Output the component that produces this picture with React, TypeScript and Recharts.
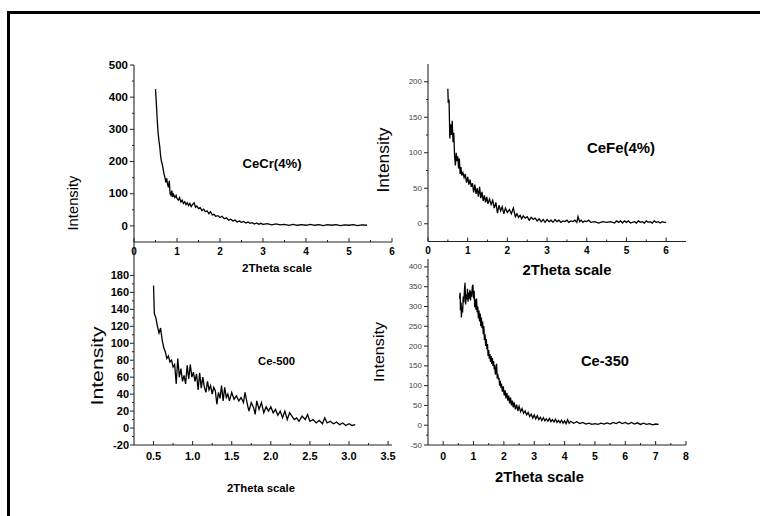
import { LineChart, Line, XAxis, YAxis } from "recharts";

const FONT = '"Liberation Sans", Arial, Helvetica, sans-serif';

// CeCr(4%)
const cecrX = [
  0.5, 0.52, 0.54, 0.56, 0.58, 0.6, 0.62, 0.64, 0.66, 0.68, 0.7, 0.72, 0.74, 0.76, 0.78, 0.8, 0.82, 0.84, 0.86, 0.88,
  0.9, 0.92, 0.95, 0.98, 1.0, 1.03, 1.06, 1.09, 1.12, 1.15, 1.18, 1.21, 1.24, 1.27, 1.3, 1.33, 1.36, 1.4, 1.43, 1.46,
  1.5, 1.54, 1.58, 1.62, 1.66, 1.7, 1.74, 1.78, 1.82, 1.86, 1.9, 1.95, 2.0, 2.05, 2.1, 2.15, 2.2, 2.25, 2.3, 2.35,
  2.4, 2.45, 2.5, 2.55, 2.6, 2.65, 2.7, 2.75, 2.8, 2.85, 2.9, 2.95, 3.0, 3.1, 3.2, 3.3, 3.4, 3.5, 3.6, 3.7,
  3.8, 3.9, 4.0, 4.1, 4.2, 4.3, 4.4, 4.5, 4.6, 4.7, 4.8, 4.9, 5.0, 5.1, 5.2, 5.3, 5.42,
];
const cecrY = [
  425, 380, 330, 290, 265, 245, 215, 200, 190, 175, 160, 150, 135, 148, 130, 120, 140, 100, 95, 110,
  90, 98, 88, 95, 85, 80, 88, 74, 80, 70, 75, 66, 72, 63, 70, 60, 66, 72, 58, 62,
  54, 57, 48, 52, 44, 47, 38, 44, 34, 36, 30, 32, 26, 30, 22, 25, 18, 21, 15, 18,
  12, 15, 11, 14, 9, 12, 8, 10, 6, 9, 5, 8, 5, 7, 3, 6, 3, 5, 2, 5,
  2, 4, 2, 5, 2, 4, 1, 4, 2, 4, 1, 3, 2, 4, 1, 3, 2,
];

// CeFe(4%)
const cefeX = [
  0.5, 0.51, 0.53, 0.55, 0.57, 0.59, 0.61, 0.63, 0.65, 0.67, 0.69, 0.71, 0.73, 0.75, 0.77, 0.79, 0.81, 0.83, 0.85, 0.88,
  0.91, 0.94, 0.97, 1.0, 1.03, 1.06, 1.09, 1.12, 1.15, 1.18, 1.21, 1.24, 1.27, 1.3, 1.33, 1.36, 1.39, 1.42, 1.45, 1.48,
  1.51, 1.55, 1.59, 1.63, 1.67, 1.71, 1.75, 1.79, 1.83, 1.87, 1.91, 1.95, 2.0, 2.05, 2.1, 2.15, 2.2, 2.24, 2.28, 2.32,
  2.36, 2.4, 2.45, 2.5, 2.55, 2.6, 2.65, 2.7, 2.75, 2.8, 2.85, 2.9, 2.95, 3.0, 3.05, 3.1, 3.15, 3.2, 3.25, 3.3,
  3.35, 3.4, 3.45, 3.5, 3.55, 3.6, 3.65, 3.7, 3.75, 3.78, 3.82, 3.86, 3.9, 3.95, 4.0, 4.05, 4.1, 4.2, 4.3, 4.4,
  4.5, 4.6, 4.7, 4.75, 4.8, 4.85, 4.9, 4.95, 5.0, 5.05, 5.1, 5.2, 5.25, 5.3, 5.35, 5.4, 5.45, 5.5, 5.55, 5.6,
  5.65, 5.7, 5.75, 5.8, 5.85, 5.9, 5.95, 6.0,
];
const cefeY = [
  190, 170, 175, 120, 140, 125, 145, 115, 128, 95, 82, 100, 88, 95, 78, 92, 70, 80, 68, 72,
  65, 70, 58, 66, 55, 62, 52, 57, 44, 55, 42, 50, 38, 52, 36, 45, 32, 40, 30, 38,
  28, 35, 27, 33, 22, 30, 15, 26, 18, 24, 14, 22, 16, 20, 14, 22, 10, 14, 9, 12,
  7, 11, 8, 10, 5, 9, 6, 8, 4, 7, 3, 6, 2, 6, 3, 5, 2, 6, 3, 5,
  2, 4, 3, 5, 2, 4, 3, 5, 2, 10, 3, 5, 2, 4, 3, 5, 2, 3, 1, 3,
  2, 3, 1, 4, 2, 4, 1, 4, 2, 4, 1, 3, 1, 4, 2, 3, 1, 4, 2, 3,
  1, 4, 2, 3, 1, 3, 2, 2,
];

// Ce-500
const ce500X = [
  0.5, 0.51, 0.53, 0.55, 0.57, 0.59, 0.61, 0.63, 0.65, 0.67, 0.69, 0.71, 0.73, 0.75, 0.77, 0.79, 0.81, 0.83, 0.85, 0.87,
  0.89, 0.91, 0.93, 0.95, 0.97, 0.99, 1.01, 1.03, 1.05, 1.07, 1.09, 1.11, 1.13, 1.15, 1.17, 1.19, 1.21, 1.23, 1.25, 1.27,
  1.29, 1.31, 1.33, 1.35, 1.37, 1.39, 1.41, 1.43, 1.45, 1.47, 1.5, 1.53, 1.56, 1.59, 1.62, 1.65, 1.67, 1.7, 1.72, 1.75,
  1.78, 1.8, 1.82, 1.85, 1.88, 1.91, 1.94, 1.97, 2.0, 2.03, 2.06, 2.09, 2.12, 2.15, 2.18, 2.21, 2.24, 2.27, 2.3, 2.33,
  2.36, 2.4, 2.44, 2.47, 2.5, 2.54, 2.58, 2.62, 2.66, 2.69, 2.72, 2.76, 2.8, 2.84, 2.88, 2.92, 2.96, 3.0, 3.04, 3.08,
];
const ce500Y = [
  168, 135, 130, 120, 112, 118, 104, 95, 90, 82, 85, 78, 80, 72, 75, 52, 82, 60, 70, 55,
  62, 52, 74, 58, 75, 60, 66, 55, 64, 45, 65, 47, 60, 48, 42, 55, 45, 50, 40, 48,
  44, 28, 42, 35, 50, 32, 48, 36, 40, 32, 42, 34, 38, 32, 36, 30, 42, 28, 20, 30,
  24, 16, 32, 22, 30, 18, 25, 20, 25, 18, 22, 15, 20, 12, 20, 10, 18, 14, 10, 12,
  8, 14, 10, 16, 8, 10, 6, 9, 5, 12, 6, 8, 5, 7, 4, 6, 3, 5, 3, 4,
];

// Ce-350
const ce350X = [
  0.54, 0.56, 0.57, 0.59, 0.6, 0.62, 0.64, 0.66, 0.68, 0.7, 0.72, 0.74, 0.76, 0.78, 0.8, 0.82, 0.84, 0.86, 0.88, 0.9,
  0.92, 0.94, 0.96, 0.98, 1.0, 1.02, 1.04, 1.06, 1.08, 1.1, 1.12, 1.14, 1.16, 1.18, 1.2, 1.22, 1.24, 1.26, 1.28, 1.3,
  1.32, 1.34, 1.36, 1.38, 1.4, 1.42, 1.44, 1.46, 1.48, 1.5, 1.52, 1.54, 1.56, 1.58, 1.6, 1.62, 1.64, 1.66, 1.68, 1.7,
  1.72, 1.74, 1.76, 1.78, 1.8, 1.82, 1.84, 1.86, 1.88, 1.9, 1.92, 1.95, 1.98, 2.01, 2.04, 2.07, 2.1, 2.13, 2.16, 2.19,
  2.22, 2.25, 2.28, 2.31, 2.34, 2.38, 2.42, 2.46, 2.5, 2.55, 2.6, 2.65, 2.7, 2.75, 2.8, 2.85, 2.9, 2.95, 3.0, 3.05,
  3.1, 3.15, 3.2, 3.25, 3.3, 3.35, 3.4, 3.45, 3.5, 3.55, 3.6, 3.65, 3.7, 3.75, 3.8, 3.85, 3.9, 3.95, 4.0, 4.05,
  4.1, 4.15, 4.2, 4.3, 4.4, 4.5, 4.6, 4.7, 4.8, 4.9, 5.0, 5.1, 5.2, 5.3, 5.4, 5.5, 5.6, 5.7, 5.8, 5.9,
  6.0, 6.1, 6.2, 6.3, 6.4, 6.5, 6.6, 6.7, 6.8, 6.9, 7.0, 7.1,
];
const ce350Y = [
  320, 335, 290, 310, 272, 300, 285, 325, 310, 340, 360, 305, 330, 318, 345, 312, 335, 320, 342, 315,
  338, 325, 350, 355, 320, 340, 298, 318, 292, 320, 285, 300, 270, 290, 262, 282, 250, 272, 245, 262,
  230, 250, 215, 230, 200, 218, 192, 205, 175, 190, 168, 180, 160, 175, 155, 170, 150, 162, 145, 148,
  128, 140, 155, 118, 130, 115, 120, 100, 112, 95, 105, 85, 98, 75, 88, 68, 82, 62, 75, 55,
  70, 50, 62, 45, 58, 40, 52, 36, 48, 34, 42, 30, 36, 26, 32, 22, 28, 18, 26, 16,
  24, 14, 20, 12, 19, 11, 16, 10, 17, 9, 14, 8, 15, 7, 12, 6, 13, 5, 11, 4,
  14, 5, 10, 5, 9, 4, 7, 3, 5, 2, 4, 2, 5, 3, 6, 3, 7, 4, 8, 4,
  7, 3, 7, 3, 6, 2, 5, 2, 4, 1, 3, 2,
];

// axis ticks
const cecrXTicks = [0, 0.5, 1, 1.5, 2, 2.5, 3, 3.5, 4, 4.5, 5, 5.5, 6];
const cecrXLabels = [0, 1, 2, 3, 4, 5, 6];
const cecrYTicks = [0, 50, 100, 150, 200, 250, 300, 350, 400, 450, 500];
const cecrYLabels = [0, 100, 200, 300, 400, 500];

const cefeXTicks = [0, 0.5, 1, 1.5, 2, 2.5, 3, 3.5, 4, 4.5, 5, 5.5, 6];
const cefeXLabels = [0, 1, 2, 3, 4, 5, 6];
const cefeYTicks = [0, 25, 50, 75, 100, 125, 150, 175, 200];
const cefeYLabels = [0, 50, 100, 150, 200];

const ce500XTicks = [0.5, 0.75, 1, 1.25, 1.5, 1.75, 2, 2.25, 2.5, 2.75, 3, 3.25, 3.5];
const ce500XLabels = [0.5, 1, 1.5, 2, 2.5, 3, 3.5];
const ce500YTicks = [-20, -10, 0, 10, 20, 30, 40, 50, 60, 70, 80, 90, 100, 110, 120, 130, 140, 150, 160, 170, 180];
const ce500YLabels = [-20, 0, 20, 40, 60, 80, 100, 120, 140, 160, 180];

const ce350XTicks = [0, 0.5, 1, 1.5, 2, 2.5, 3, 3.5, 4, 4.5, 5, 5.5, 6, 6.5, 7, 7.5, 8];
const ce350XLabels = [0, 1, 2, 3, 4, 5, 6, 7, 8];
const ce350YTicks = [-50, -25, 0, 25, 50, 75, 100, 125, 150, 175, 200, 225, 250, 275, 300, 325, 350, 375, 400];
const ce350YLabels = [-50, 0, 50, 100, 150, 200, 250, 300, 350, 400];

type TickStyle = { size: number; bold: boolean; fill: string; sx: number; off: number; fmt?: (v: number) => string };

const isIn = (list: number[], v: number) => list.some((m) => Math.abs(m - v) < 1e-6);

function xTick(labels: number[], st: TickStyle) {
  return (props: any) => {
    const { x, y, payload } = props;
    const v = payload.value as number;
    const major = isIn(labels, v);
    return (
      <g>
        <line x1={x} x2={x} y1={y} y2={y - (major ? 4 : 2)} stroke="#222" />
        {major && (
          <text
            transform={`translate(${x},${y + st.off}) scale(${st.sx},1)`}
            textAnchor="middle"
            dominantBaseline="central"
            fontSize={st.size}
            fontWeight={st.bold ? 700 : 400}
            fill={st.fill}
            fontFamily={FONT}
          >
            {st.fmt ? st.fmt(v) : String(v)}
          </text>
        )}
      </g>
    );
  };
}

function yTick(labels: number[], st: TickStyle) {
  return (props: any) => {
    const { x, y, payload } = props;
    const v = payload.value as number;
    const major = isIn(labels, v);
    return (
      <g>
        <line x1={x} x2={x - (major ? 4 : 2)} y1={y} y2={y} stroke="#222" />
        {major && (
          <text
            transform={`translate(${x - st.off},${y}) scale(${st.sx},1)`}
            textAnchor="end"
            dominantBaseline="central"
            fontSize={st.size}
            fontWeight={st.bold ? 700 : 400}
            fill={st.fill}
            fontFamily={FONT}
          >
            {String(v)}
          </text>
        )}
      </g>
    );
  };
}

interface PanelProps {
  xs: number[];
  ys: number[];
  box: { left: number; right: number; top: number; bottom: number };
  xDomain: [number, number];
  yDomain: [number, number];
  xTicks: number[];
  xLabels: number[];
  yTicks: number[];
  yLabels: number[];
  xStyle: TickStyle;
  yStyle: TickStyle;
}

function Panel(props: PanelProps) {
  const { xs, ys, box, xDomain, yDomain, xTicks, xLabels, yTicks, yLabels, xStyle, yStyle } = props;
  const data = xs.map((x, i) => ({ x, y: ys[i] }));
  return (
    <div style={{ position: "absolute", left: 0, top: 0 }}>
      <LineChart
        width={760}
        height={516}
        data={data}
        margin={{ left: box.left - 40, right: 760 - box.right, top: box.top, bottom: 516 - box.bottom - 30 }}
      >
        <XAxis
          type="number"
          dataKey="x"
          domain={xDomain}
          ticks={xTicks}
          interval={0}
          allowDataOverflow
          height={30}
          tickSize={0}
          tickMargin={0}
          tickLine={false}
          axisLine={{ stroke: "#222" }}
          tick={xTick(xLabels, xStyle)}
        />
        <YAxis
          type="number"
          domain={yDomain}
          ticks={yTicks}
          interval={0}
          allowDataOverflow
          width={40}
          tickSize={0}
          tickMargin={0}
          tickLine={false}
          axisLine={{ stroke: "#111" }}
          tick={yTick(yLabels, yStyle)}
        />
        <Line type="linear" dataKey="y" stroke="#000" strokeWidth={1.3} dot={false} isAnimationActive={false} />
      </LineChart>
    </div>
  );
}

function Title(p: { x: number; y: number; text: string; size: number; len: number; bold?: boolean; rotate?: boolean }) {
  return (
    <text
      x={p.x}
      y={p.y}
      transform={p.rotate ? `rotate(-90 ${p.x} ${p.y})` : undefined}
      textAnchor="middle"
      dominantBaseline="central"
      fontSize={p.size}
      fontWeight={p.bold ? 700 : 400}
      fontFamily={FONT}
      fill="#000"
      textLength={p.len}
      lengthAdjust="spacingAndGlyphs"
    >
      {p.text}
    </text>
  );
}

const boldTick = (size: number, off: number, sx = 1, fmt?: (v: number) => string): TickStyle => ({
  size,
  bold: true,
  fill: "#000",
  sx,
  off,
  fmt,
});
const grayTick: TickStyle = { size: 8, bold: false, fill: "#444", sx: 1, off: 6 };

export default function App() {
  return (
    <div
      style={{
        position: "absolute",
        left: 0,
        top: 0,
        width: 760,
        height: 516,
        overflow: "hidden",
        background: "#fff",
        fontFamily: FONT,
      }}
    >
      <div
        style={{
          position: "absolute",
          left: 7,
          top: 11,
          width: 820,
          height: 620,
          border: "3px solid #000",
        }}
      />
      <Panel
        xs={cecrX}
        ys={cecrY}
        box={{ left: 134, right: 392, top: 65, bottom: 242 }}
        xDomain={[0, 6]}
        yDomain={[-50, 500]}
        xTicks={cecrXTicks}
        xLabels={cecrXLabels}
        yTicks={cecrYTicks}
        yLabels={cecrYLabels}
        xStyle={boldTick(10, 9)}
        yStyle={boldTick(10, 6, 1.15)}
      />
      <Panel
        xs={cefeX}
        ys={cefeY}
        box={{ left: 428, right: 686, top: 64, bottom: 241.5 }}
        xDomain={[0, 6.5]}
        yDomain={[-25, 225]}
        xTicks={cefeXTicks}
        xLabels={cefeXLabels}
        yTicks={cefeYTicks}
        yLabels={cefeYLabels}
        xStyle={boldTick(10, 9)}
        yStyle={grayTick}
      />
      <Panel
        xs={ce500X}
        ys={ce500Y}
        box={{ left: 134, right: 392, top: 241.5, bottom: 445 }}
        xDomain={[0.25, 3.55]}
        yDomain={[-20, 220]}
        xTicks={ce500XTicks}
        xLabels={ce500XLabels}
        yTicks={ce500YTicks}
        yLabels={ce500YLabels}
        xStyle={boldTick(10.5, 11, 1.05, (v) => v.toFixed(1))}
        yStyle={boldTick(10, 5, 1.1)}
      />
      <Panel
        xs={ce350X}
        ys={ce350Y}
        box={{ left: 428, right: 686, top: 259, bottom: 445 }}
        xDomain={[-0.5, 8]}
        yDomain={[-50, 420]}
        xTicks={ce350XTicks}
        xLabels={ce350XLabels}
        yTicks={ce350YTicks}
        yLabels={ce350YLabels}
        xStyle={boldTick(10.5, 11)}
        yStyle={grayTick}
      />
      <svg width={760} height={516} style={{ position: "absolute", left: 0, top: 0, pointerEvents: "none" }}>
        <Title x={72.5} y={203} text="Intensity" size={15} len={55} rotate />
        <Title x={383} y={160} text="Intensity" size={17} len={65} rotate />
        <Title x={97.5} y={366} text="Intensity" size={16} len={79} rotate />
        <Title x={378} y={352} text="Intensity" size={15} len={60} rotate />
        <Title x={272} y={163} text="CeCr(4%)" size={13} len={59} bold />
        <Title x={621} y={147} text="CeFe(4%)" size={15} len={68} bold />
        <Title x={276.5} y={361} text="Ce-500" size={11} len={37} bold />
        <Title x={605} y={361} text="Ce-350" size={14.5} len={48} bold />
        <Title x={277} y={268} text="2Theta scale" size={11} len={70} bold />
        <Title x={567} y={270} text="2Theta scale" size={14} len={89} bold />
        <Title x={261} y={488} text="2Theta scale" size={11} len={68} bold />
        <Title x={539.5} y={477} text="2Theta scale" size={14} len={89} bold />
      </svg>
    </div>
  );
}
